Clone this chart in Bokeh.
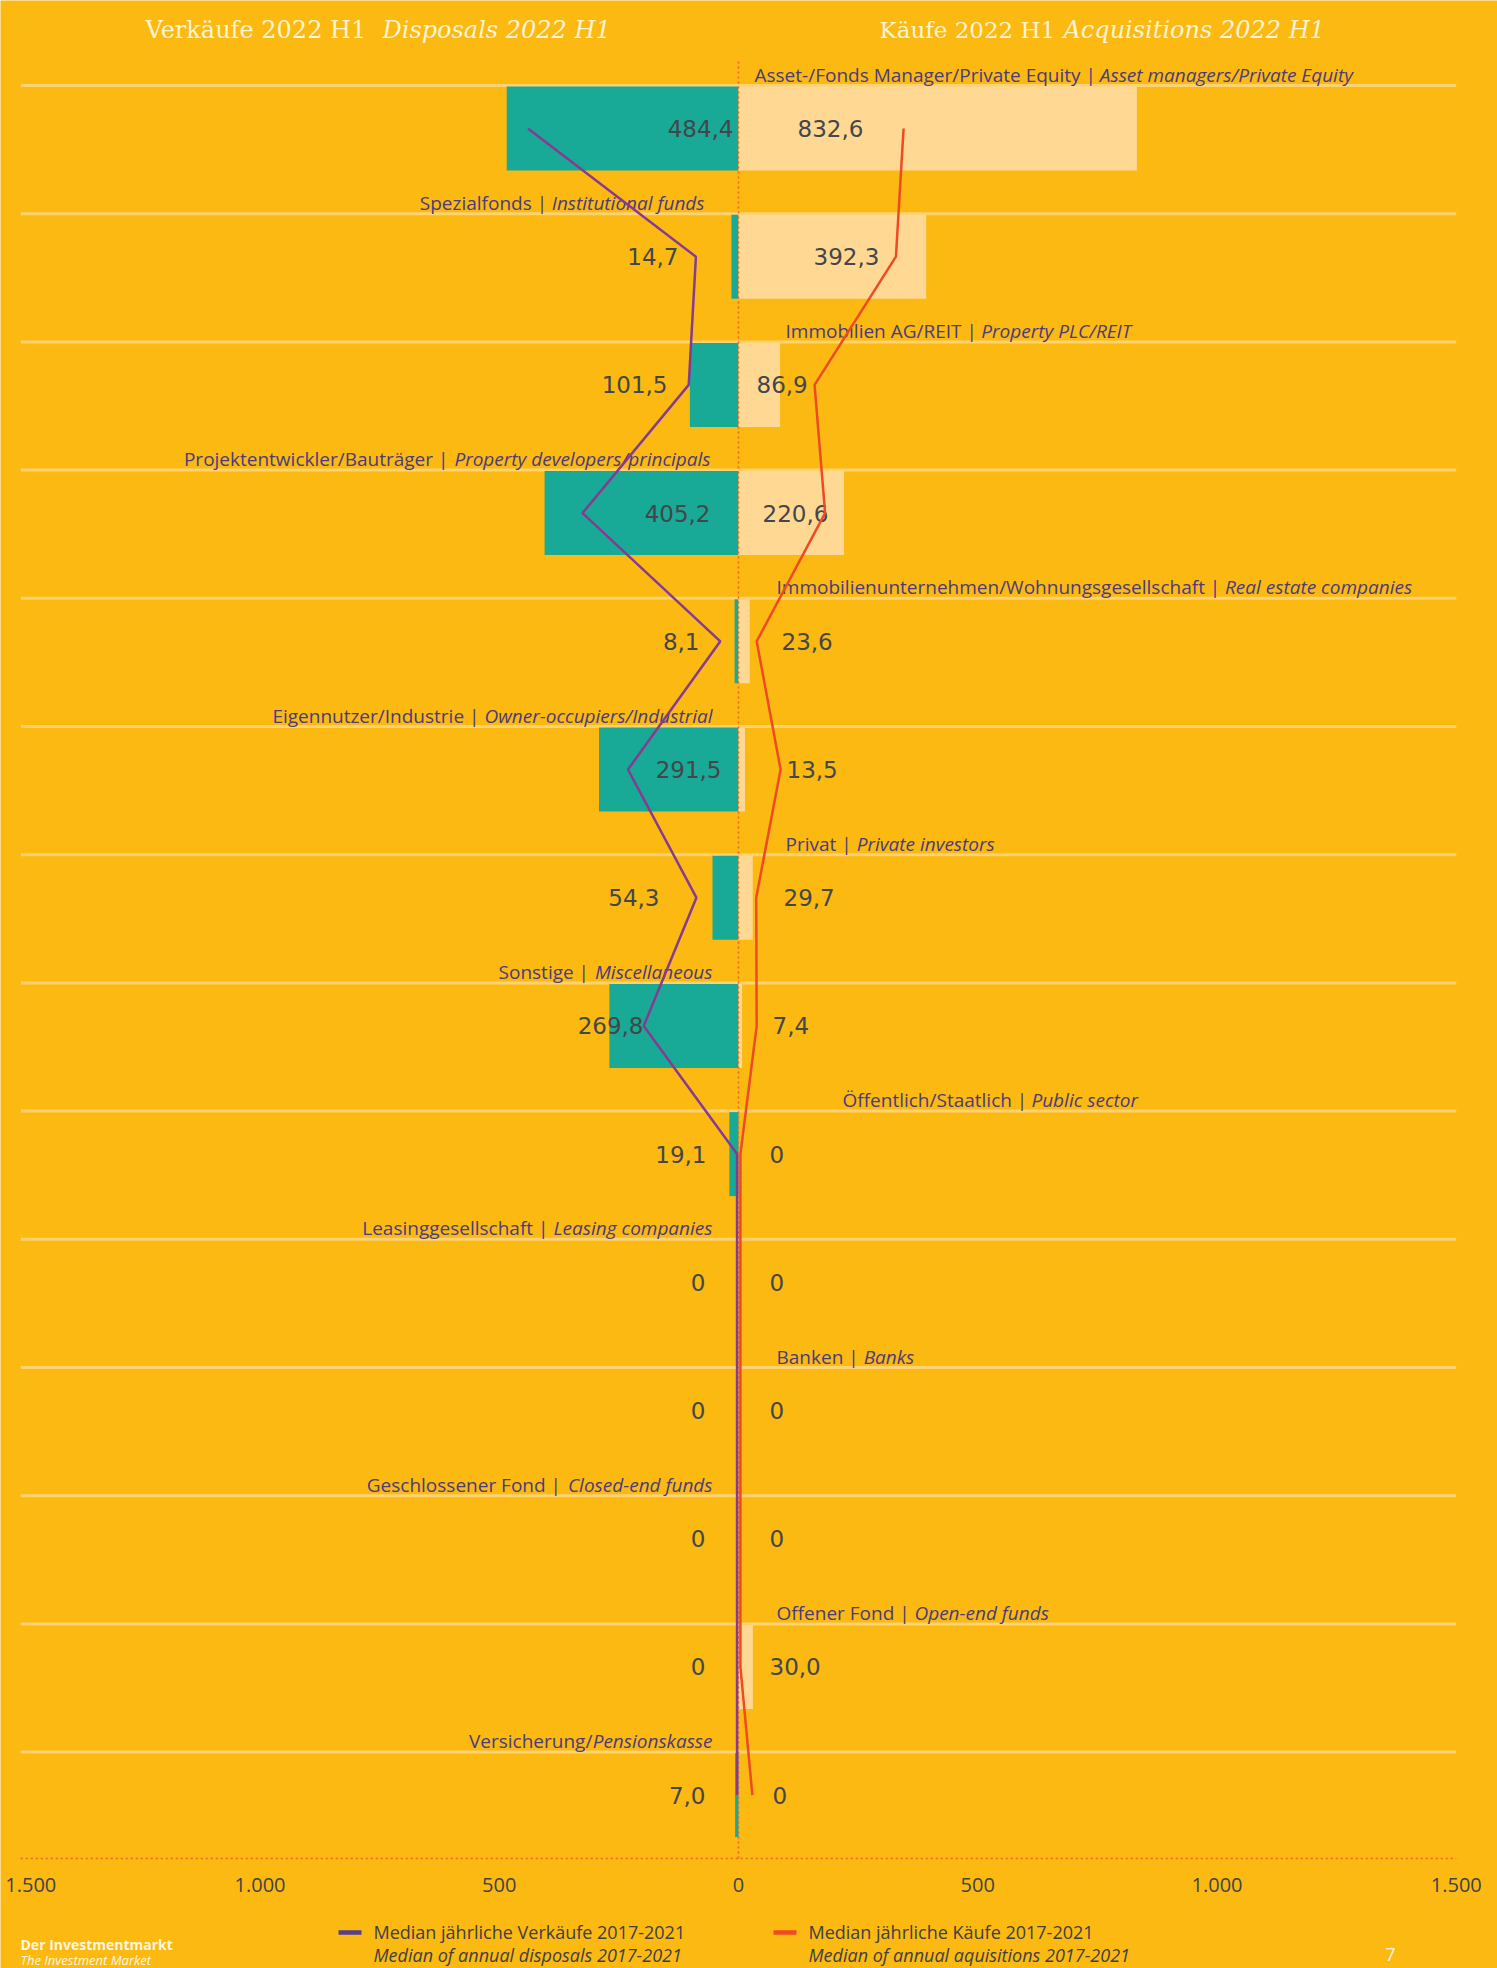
import re
from bokeh.plotting import figure
from bokeh.models import ColumnDataSource, Range1d
from bokeh.embed import file_html
from bokeh.resources import INLINE
from bokeh.core.properties import value

# ---------------- data ----------------
categories_de = ["Asset-/Fonds Manager/Private Equity", "Spezialfonds", "Immobilien AG/REIT",
                 "Projektentwickler/Bauträger", "Immobilienunternehmen/Wohnungsgesellschaft",
                 "Eigennutzer/Industrie", "Privat", "Sonstige", "Öffentlich/Staatlich",
                 "Leasinggesellschaft", "Banken", "Geschlossener Fond", "Offener Fond", "Versicherung"]
categories_en = ["Asset managers/Private Equity", "Institutional funds", "Property PLC/REIT",
                 "Property developers/principals", "Real estate companies",
                 "Owner-occupiers/Industrial", "Private investors", "Miscellaneous", "Public sector",
                 "Leasing companies", "Banks", "Closed-end funds", "Open-end funds", "Pensionskasse"]
category_sep = [" | "] * 13 + ["/"]

disposals_2022 = [484.4, 14.7, 101.5, 405.2, 8.1, 291.5, 54.3, 269.8, 19.1, 0, 0, 0, 0, 7.0]
acquisitions_2022 = [832.6, 392.3, 86.9, 220.6, 23.6, 13.5, 29.7, 7.4, 0, 0, 0, 0, 30.0, 0]
median_disposals = [440, 89, 104, 326, 38, 231, 88, 198, 3, 3, 3, 3, 3, 3]
median_acquisitions = [345, 329, 159, 181, 38, 88, 37, 38, 4, 4, 4, 4, 4, 29]

tick_values = [-1500, -1000, -500, 0, 500, 1000, 1500]
tick_labels = ["1.500", "1.000", "500", "0", "500", "1.000", "1.500"]

title_left = ("Verkäufe 2022 H1", "Disposals 2022 H1")
title_right = ("Käufe 2022 H1", "Acquisitions 2022 H1")
legend_de = ["Median jährliche Verkäufe 2017-2021", "Median jährliche Käufe 2017-2021"]
legend_en = ["Median of annual disposals 2017-2021", "Median of annual aquisitions 2017-2021"]

# ---------------- layout / style ----------------
BG = "#FBB912"
TEAL = "#19A997"
PEACH = "#FFD994"
SEP = "#FDD272"
PURPLE = "#873B90"
PURPLE_LEG = "#5A3E8C"
ORANGE = "#EE4A24"
ZERO_LINE = "#F0632B"
LABEL_C = "#4A3B80"
VALUE_C = "#43464A"
TITLE_C = "#FFF3D2"
TICK_C = "#3F434A"

WIDTH, HEIGHT = 1497, 1968
PX = 0.4785      # pixels per unit
ZERO = 738       # page x of value 0
ROW = 128.2      # pixels per row
ROW0 = 128       # page y of first bar centre
AXIS_Y = 1858    # page y of the dotted base line

label_dx = [16, -34, 47, -28, 38, -26, 47, -26, 104, -26, 38, -26, 38, -26]
left_value_dx = [-5, -60, -71, -28, -39, -17, -79, -95, -32, -33, -33, -33, -33, -33]
right_value_dx = [59, 75, 18, 24, 43, 48, 45, 34, 31, 31, 31, 31, 31, 34]
tick_label_dx = [10, 0, 0, 0, 0, 0, 0]


def vx(page_x):
    return (page_x - ZERO) / PX


def ry(page_y):
    return (page_y - ROW0) / ROW


W = {' ': 532, 'a': 1139, 'b': 1255, 'c': 975, 'd': 1255, 'e': 1149, 'f': 694, 'g': 1122, 'h': 1257,
     'i': 518, 'j': 518, 'k': 1075, 'l': 518, 'm': 1905, 'n': 1257, 'o': 1237, 'p': 1255, 'q': 1255,
     'r': 836, 's': 977, 't': 723, 'u': 1257, 'v': 1026, 'w': 1593, 'x': 1073, 'y': 1028, 'z': 977,
     'A': 1296, 'B': 1327, 'C': 1292, 'D': 1493, 'E': 1124, 'F': 1026, 'G': 1474, 'H': 1511, 'I': 571,
     'J': 547, 'K': 1208, 'L': 1044, 'M': 1849, 'N': 1548, 'O': 1595, 'P': 1239, 'Q': 1595, 'R': 1268,
     'S': 1098, 'T': 1118, 'U': 1481, 'V': 1218, 'W': 1856, 'X': 1161, 'Y': 1145, 'Z': 1137,
     '/': 702, '-': 659, '|': 1128, '.': 545, ',': 502, 'ä': 1139, 'ö': 1237, 'ü': 1257, 'Ö': 1595}
LABEL_SIZE = 19


def tw(s, italic=False):
    w = sum(W.get(ch, 1150) for ch in s) / 2048.0 * LABEL_SIZE
    return w * (0.945 if italic else 1.0)


def fmt(v):
    return "0" if v == 0 else ("%.1f" % v).replace(".", ",")


n = len(categories_de)
idx = list(range(n))

p = figure(width=WIDTH, height=HEIGHT,
           x_range=Range1d(vx(0), vx(WIDTH)), y_range=Range1d(ry(HEIGHT), ry(0)),
           output_backend="svg", toolbar_location=None, x_axis_location=None, y_axis_location=None,
           min_border=0, background_fill_color=BG, border_fill_color=BG, outline_line_color=None)
p.grid.visible = False

# separators
sep_y = [i - 43 / ROW for i in idx]
p.segment(x0=[-1500] * n, x1=[1500] * n, y0=sep_y, y1=sep_y, line_color=SEP, line_width=3)

# bars
src = ColumnDataSource(dict(y=idx, dleft=[-d for d in disposals_2022], aright=acquisitions_2022,
                            mdisp=[-m for m in median_disposals], macq=median_acquisitions,
                            dlab=[fmt(d) for d in disposals_2022], alab=[fmt(a) for a in acquisitions_2022],
                            ldx=left_value_dx, rdx=right_value_dx))
p.hbar(y="y", left="dleft", right=0, height=84 / ROW, fill_color=TEAL, line_color=None, source=src)
p.hbar(y="y", left=0, right="aright", height=84 / ROW, fill_color=PEACH, line_color=None, source=src)

# zero dotted line and dotted base line (value axis)
p.segment(x0=[0], x1=[0], y0=[ry(61)], y1=[ry(AXIS_Y)], line_color=ZERO_LINE, line_width=1.5,
          line_dash="2 3")
p.segment(x0=[tick_values[0]], x1=[tick_values[-1]], y0=[ry(AXIS_Y)], y1=[ry(AXIS_Y)],
          line_color=ZERO_LINE, line_width=1.5, line_dash="2 3")

# tick labels
tsrc = ColumnDataSource(dict(x=tick_values, t=tick_labels, dx=tick_label_dx))
p.text(x="x", y=ry(1884), text="t", x_offset="dx", source=tsrc, text_align="center",
       text_baseline="middle", text_font=value("Open Sans"), text_font_size="20px", text_color=TICK_C)

# value labels
p.text(x=0, y="y", text="dlab", x_offset="ldx", source=src, text_align="right", text_baseline="middle",
       text_font=value("DejaVu Sans"), text_font_size="23px", text_color=VALUE_C)
p.text(x=0, y="y", text="alab", x_offset="rdx", source=src, text_align="left", text_baseline="middle",
       text_font=value("DejaVu Sans"), text_font_size="23px", text_color=VALUE_C)

# category labels (German upright + English italic)
R = dict(y=[], de=[], en=[], dde=[], den=[])
L = dict(y=[], de=[], en=[], dde=[], den=[])
for i in idx:
    dx = label_dx[i]
    sep = category_sep[i]
    de = categories_de[i] + sep.rstrip()
    en = categories_en[i]
    yb = i - 43 / ROW - 11 / ROW
    if dx > 0:
        R["y"].append(yb); R["de"].append(de); R["en"].append(en)
        R["dde"].append(dx); R["den"].append(dx + tw(categories_de[i] + sep))
    else:
        trail = sep[len(sep.rstrip()):]
        L["y"].append(yb); L["de"].append(de); L["en"].append(en)
        L["den"].append(dx); L["dde"].append(dx - tw(en, True) - tw(trail) + (2 if not trail else 0))
rs = ColumnDataSource(R)
ls = ColumnDataSource(L)
common = dict(text_baseline="alphabetic", text_font=value("Open Sans"),
              text_font_size="%dpx" % LABEL_SIZE, text_color=LABEL_C)
p.text(x=0, y="y", text="de", x_offset="dde", source=rs, text_align="left", **common)
p.text(x=0, y="y", text="en", x_offset="den", source=rs, text_align="left", text_font_style="italic", **common)
p.text(x=0, y="y", text="de", x_offset="dde", source=ls, text_align="right", **common)
p.text(x=0, y="y", text="en", x_offset="den", source=ls, text_align="right", text_font_style="italic", **common)

# median lines
p.line(x="mdisp", y="y", source=src, line_color=PURPLE, line_width=2.5)
p.line(x="macq", y="y", source=src, line_color=ORANGE, line_width=2.5)

# titles
tcommon = dict(text_baseline="alphabetic", text_font=value("DejaVu Serif"),
               text_color=TITLE_C, text_align="left")
p.text(x=[vx(145)], y=[ry(29)], text=[title_left[0]], text_font_size="24px", **tcommon)
p.text(x=[vx(382)], y=[ry(29)], text=[title_left[1]], text_font_style="italic", text_font_size="24px", **tcommon)
p.text(x=[vx(879)], y=[ry(29)], text=[title_right[0]], text_font_size="23px", **tcommon)
p.text(x=[vx(1063)], y=[ry(29)], text=[title_right[1]], text_font_style="italic", text_font_size="24px", **tcommon)

# legend
p.segment(x0=[vx(338), vx(773)], x1=[vx(361), vx(796)], y0=[ry(1932)] * 2, y1=[ry(1932)] * 2,
          line_color=[PURPLE_LEG, ORANGE], line_width=4.5)
lcommon = dict(text_font=value("Open Sans"), text_font_size="18px", text_color="#3F3F46",
               text_align="left", text_baseline="middle")
p.text(x=[vx(373), vx(808)], y=[ry(1931)] * 2, text=legend_de, **lcommon)
p.text(x=[vx(373), vx(808)], y=[ry(1954)] * 2, text=legend_en, text_font_style="italic", **lcommon)

# footer
fcommon = dict(text_font=value("Open Sans"), text_color="#FFF6E0")
p.text(x=[vx(20)], y=[ry(1944)], text=["Der Investmentmarkt"], text_font_size="14px",
       text_font_style="bold", text_baseline="alphabetic", **fcommon)
p.text(x=[vx(20)], y=[ry(1959)], text=["The Investment Market"], text_font_size="13px",
       text_font_style="italic", text_baseline="alphabetic", **fcommon)
p.text(x=[vx(1390)], y=[ry(1954)], text=["7"], text_font_size="18px", text_align="center",
       text_baseline="middle", **fcommon)

html = file_html(p, INLINE)
html = re.sub(r"<body[^>]*>", '<body style="margin:0;background-color:%s;overflow:hidden">' % BG, html, count=1)
open("out.html", "w").write(html)
